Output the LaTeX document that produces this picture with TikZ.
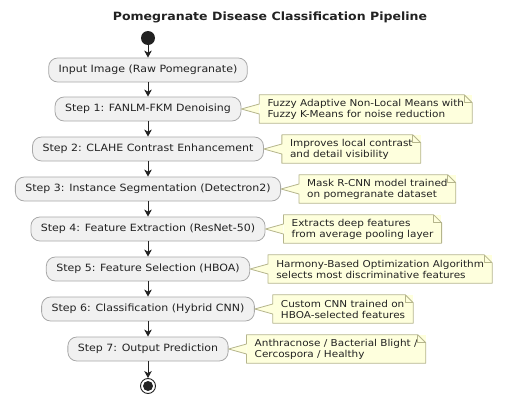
\documentclass[tikz,border=0pt]{standalone}
\usepackage{fontspec}
\setmainfont{DejaVu Sans}[FakeStretch=1.1]
\usetikzlibrary{positioning,arrows.meta}
\definecolor{stagefill}{HTML}{F1F1F1}
\definecolor{stageline}{HTML}{A8A8A8}
\definecolor{memofill}{HTML}{FEFFDD}
\definecolor{memoline}{HTML}{B5B58C}
\definecolor{inkgray}{HTML}{222222}
\tikzset{
    stage/.style = {draw=stageline, fill=stagefill, line width=0.8pt,
        rounded corners=9pt, minimum height=24pt, inner xsep=10pt,
        text=inkgray, font=\fontsize{10}{11}\selectfont},
    memo/.style = {fill=memofill, minimum height=28pt, inner xsep=8pt,
        align=left, text=inkgray, font=\fontsize{9.5}{11}\selectfont},
    flow/.style = {draw=inkgray, line width=0.9pt,
        -{Stealth[length=7pt,width=7.5pt,inset=2pt]}},
    edge/.style = {draw=memoline, line width=0.8pt, line join=round}
}
\begin{document}
\begin{tikzpicture}[x=1pt,y=1pt,node distance=40pt]
    \useasboundingbox (0,0) rectangle (523,-394);
    \node [font=\fontsize{11.4}{13}\selectfont\bfseries, text=inkgray] (title) at (270,-17) {Pomegranate Disease Classification Pipeline};
    \node [circle, fill=inkgray, minimum size=14pt, inner sep=0pt] (start) at (148,-38) {};
    \node [stage, below of=start, node distance=32pt] (s0) {Input Image (Raw Pomegranate)};
    \node [stage, below of=s0, node distance=39pt] (s1) {Step 1: FANLM-FKM Denoising};
    \node [stage, below of=s1] (s2) {Step 2: CLAHE Contrast Enhancement};
    \node [stage, below of=s2] (s3) {Step 3: Instance Segmentation (Detectron2)};
    \node [stage, below of=s3] (s4) {Step 4: Feature Extraction (ResNet-50)};
    \node [stage, below of=s4] (s5) {Step 5: Feature Selection (HBOA)};
    \node [stage, below of=s5] (s6) {Step 6: Classification (Hybrid CNN)};
    \node [stage, below of=s6] (s7) {Step 7: Output Prediction};
    \node [circle, draw=inkgray, line width=0.9pt, minimum size=15pt, inner sep=0pt, below of=s7, node distance=37pt] (stop) {};
    \node [circle, fill=inkgray, minimum size=10pt, inner sep=0pt] (stopdot) at (stop) {};

    % notes
    \node [memo, right=18pt of s1] (n1) {Fuzzy Adaptive Non-Local Means with\\Fuzzy K-Means for noise reduction};
    \node [memo, right=18pt of s2] (n2) {Improves local contrast\\and detail visibility};
    \node [memo, right=18pt of s3] (n3) {Mask R-CNN model trained\\on pomegranate dataset};
    \node [memo, right=18pt of s4] (n4) {Extracts deep features\\from average pooling layer};
    \node [memo, right=18pt of s5] (n5) {Harmony-Based Optimization Algorithm\\selects most discriminative features};
    \node [memo, right=18pt of s6] (n6) {Custom CNN trained on\\HBOA-selected features};
    \node [memo, right=18pt of s7] (n7) {Anthracnose / Bacterial Blight /\\Cercospora / Healthy};

    \foreach \i in {1,...,7} {
        \fill [memofill] (s\i.east) -- ([yshift=5pt]n\i.west) -- ([yshift=-5pt]n\i.west) -- cycle;
        \draw [edge] ([yshift=5pt]n\i.west) -- (n\i.north west) -- ([xshift=-8pt]n\i.north east)
            -- ([yshift=-8pt]n\i.north east) -- (n\i.south east) -- (n\i.south west)
            -- ([yshift=-5pt]n\i.west) -- (s\i.east) -- cycle;
        \draw [edge] ([xshift=-8pt]n\i.north east) -- ([xshift=-8pt,yshift=-8pt]n\i.north east)
            -- ([yshift=-8pt]n\i.north east);
    }

    \foreach \a/\b in {start/s0,s0/s1,s1/s2,s2/s3,s3/s4,s4/s5,s5/s6,s6/s7,s7/stop}
        \draw [flow] (\a) -- (\b);
\end{tikzpicture}
\end{document}
